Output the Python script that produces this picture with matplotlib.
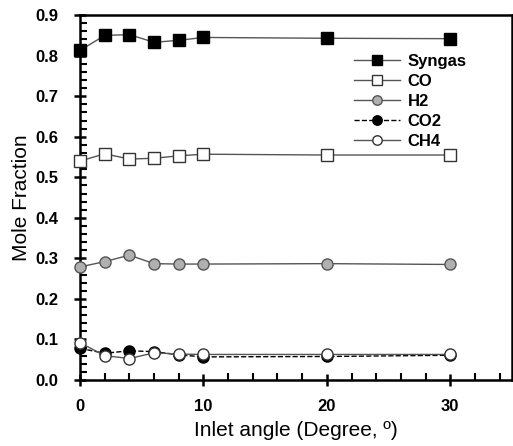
import matplotlib.pyplot as plt
from matplotlib.ticker import MultipleLocator

plt.rcParams['font.family'] = ['Liberation Sans', 'DejaVu Sans']

angle = [0, 2, 4, 6, 8, 10, 20, 30]
syngas = [0.813, 0.850, 0.852, 0.833, 0.838, 0.845, 0.843, 0.842]
co = [0.540, 0.558, 0.545, 0.547, 0.553, 0.557, 0.555, 0.555]
h2 = [0.279, 0.292, 0.308, 0.287, 0.286, 0.286, 0.287, 0.285]
co2 = [0.078, 0.066, 0.072, 0.070, 0.062, 0.057, 0.058, 0.061]
ch4 = [0.092, 0.060, 0.053, 0.067, 0.064, 0.063, 0.063, 0.063]

fig = plt.figure(figsize=(5.13, 4.46), dpi=100)
ax = fig.add_axes([0.156, 0.148, 0.842, 0.818])

lc = '#555555'
kw = dict(lw=1, ms=8, clip_on=False, zorder=3)
ax.plot(angle, syngas, '-', color=lc, marker='s', mfc='black', mec='black', label='Syngas', **kw)
ax.plot(angle, co, '-', color=lc, marker='s', mfc='white', mec='#333333', label='CO', **kw)
ax.plot(angle, h2, '-', color=lc, marker='o', mfc='#b0b0b0', mec='#555555', label='H2', **kw)
ax.plot(angle, co2, '--', color='black', marker='o', mfc='black', mec='black', label='CO2', **kw)
ax.plot(angle, ch4, '-', color=lc, marker='o', mfc='white', mec='#333333', label='CH4', **kw)

ax.set_xlim(0, 35)
ax.set_ylim(0, 0.9)
ax.xaxis.set_minor_locator(MultipleLocator(2))
ax.yaxis.set_minor_locator(MultipleLocator(0.02))
ax.set_xticks([0, 10, 20, 30])
yt = [i / 10 for i in range(10)]
ax.set_yticks(yt)
ax.set_yticklabels([f'{v:.1f}' for v in yt])

for s in ax.spines.values():
    s.set_linewidth(1.8)
ax.tick_params(which='major', direction='inout', length=9, width=1.8, labelsize=12)
ax.tick_params(axis='y', which='major', pad=11)
ax.tick_params(axis='x', which='major', pad=9)
ax.tick_params(which='minor', direction='in', length=5, width=1.5)
for lab in ax.get_xticklabels() + ax.get_yticklabels():
    lab.set_fontweight('bold')

ax.set_xlabel('Inlet angle (Degree, º)', fontsize=15, labelpad=5)
ax.set_ylabel('Mole Fraction', fontsize=15, labelpad=3)

ax.legend(loc='upper right', bbox_to_anchor=(0.93, 0.935), frameon=False,
          prop={'weight': 'bold', 'size': 12}, handlelength=2.8,
          labelspacing=0.3, handletextpad=0.45, markerscale=0.85)

fig.savefig('out.png', dpi=100)
